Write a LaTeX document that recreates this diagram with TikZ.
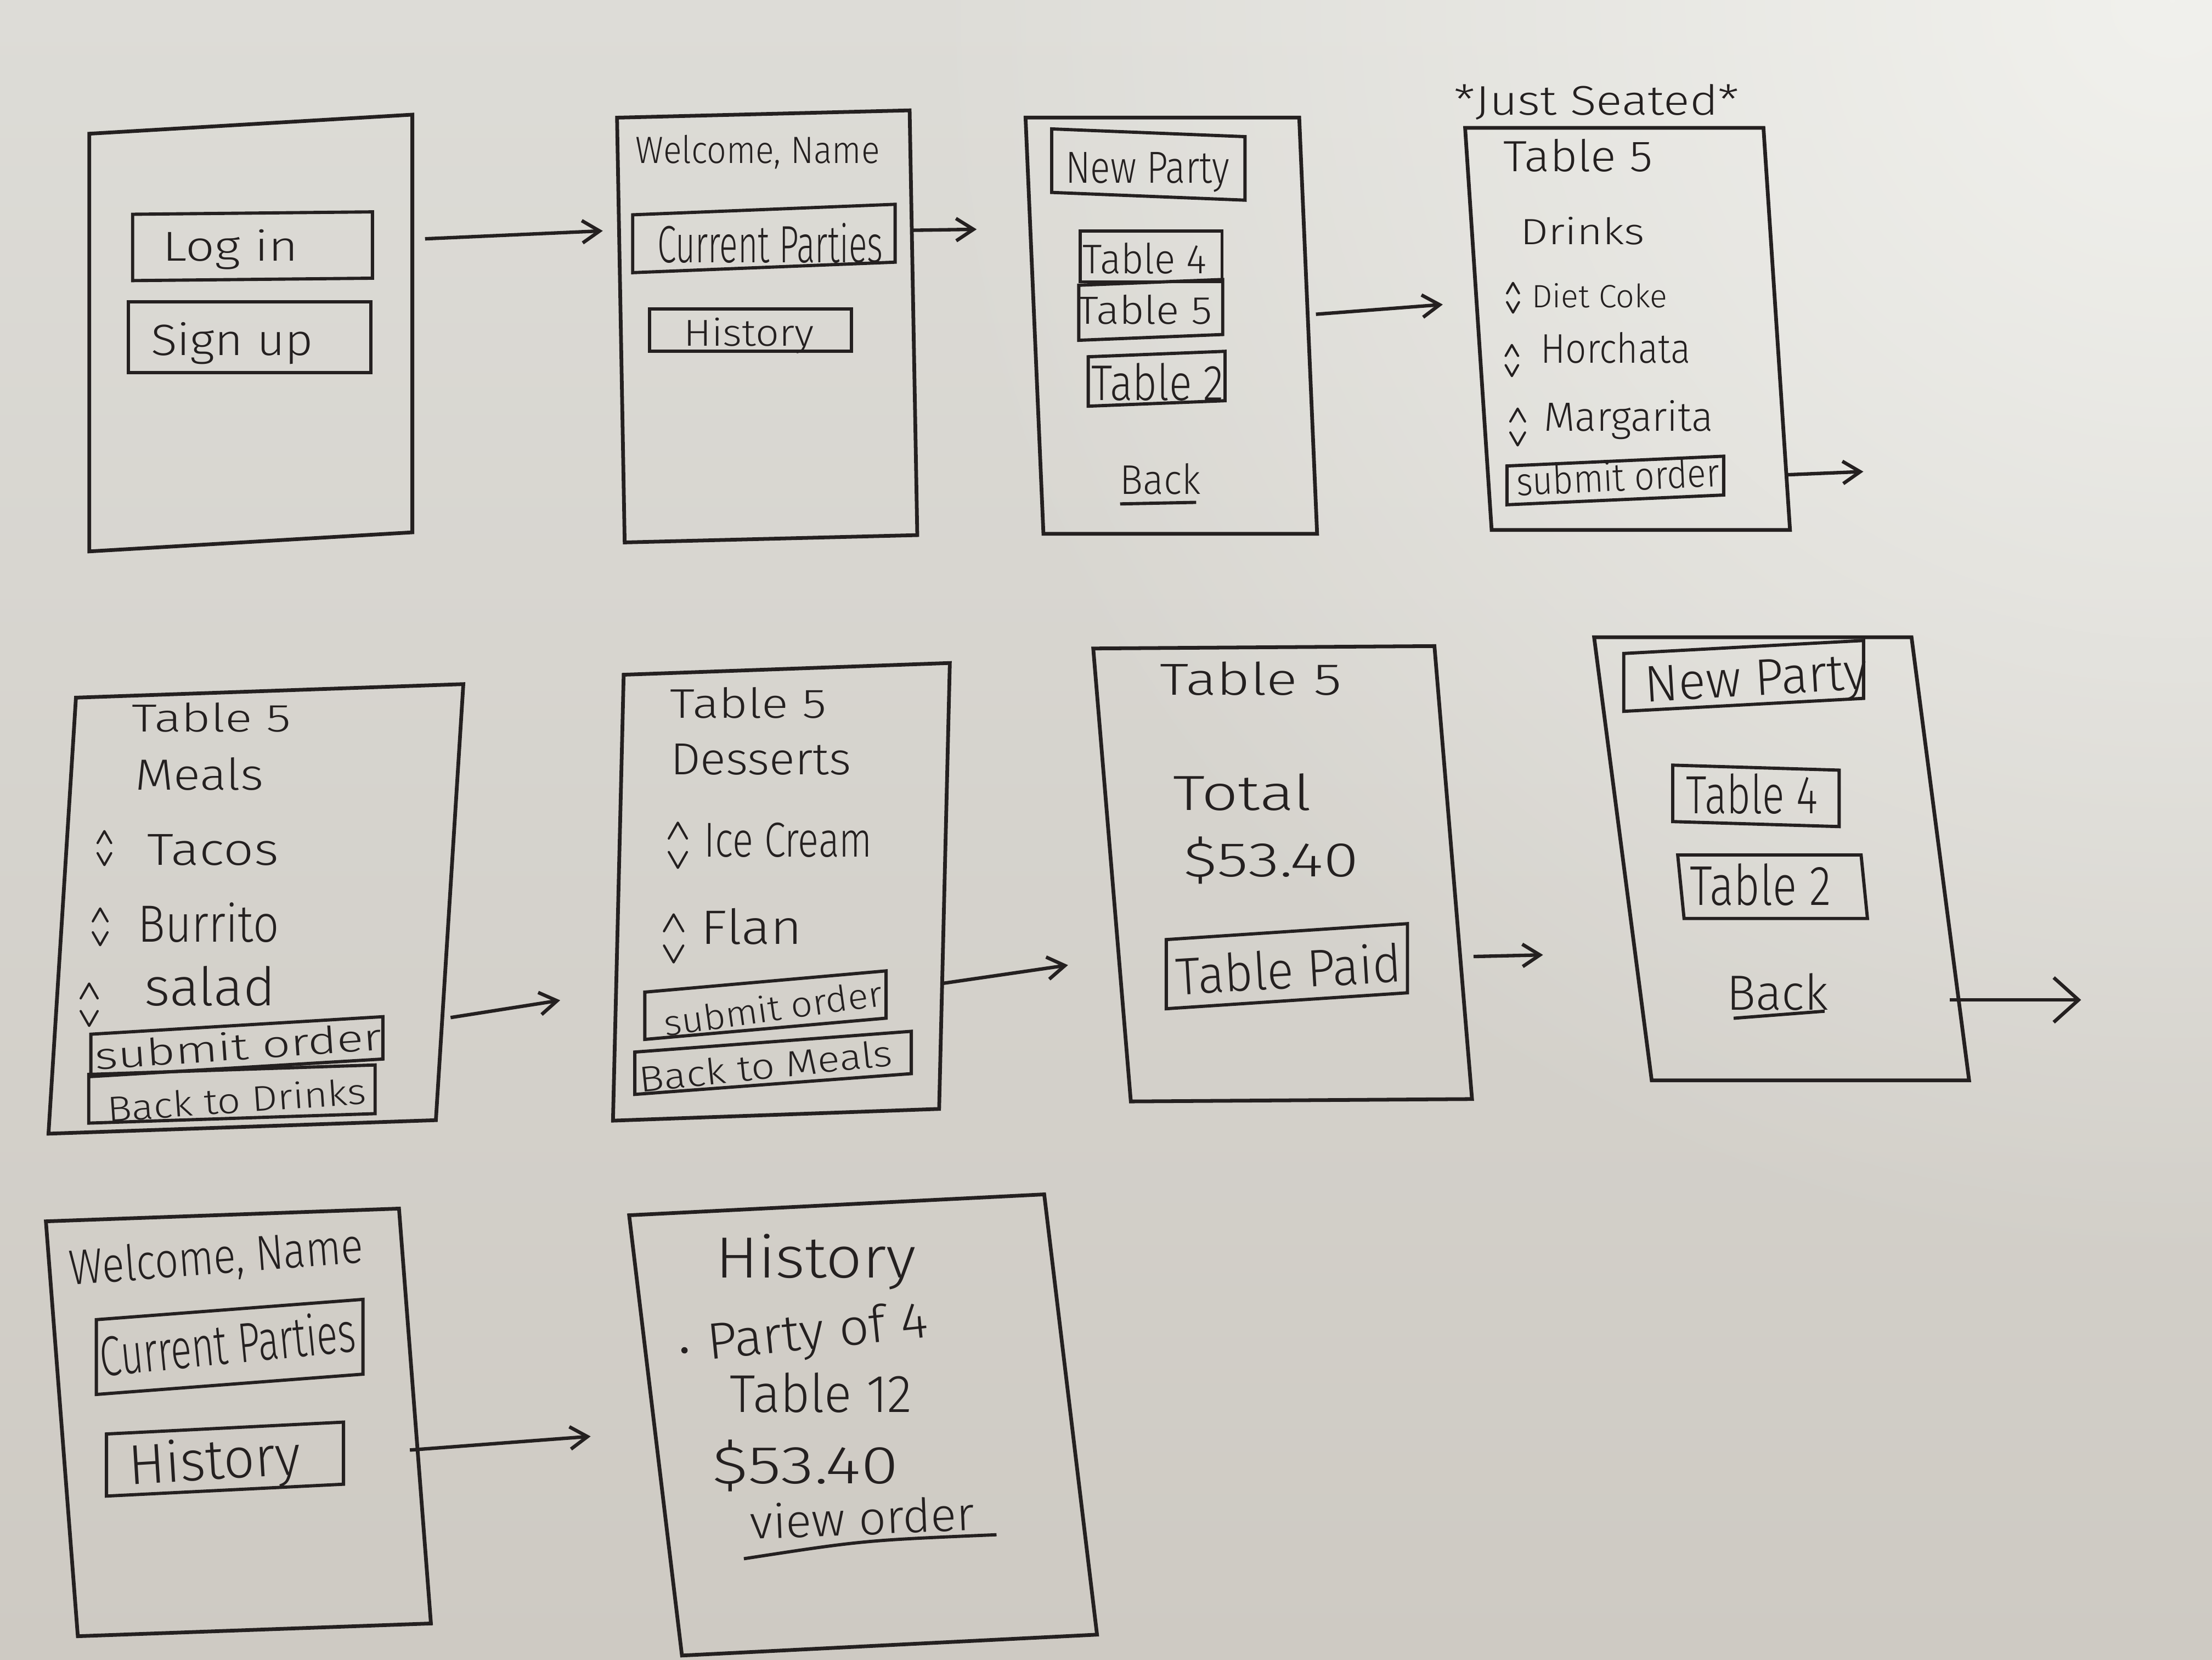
\documentclass[tikz,border=0pt]{standalone}
\usepackage{graphicx}
\usepackage{fontspec}
\setmainfont{Fira Sans Light}
\usetikzlibrary{arrows.meta,calc,fadings}

\definecolor{papertop}{RGB}{221,220,215}
\definecolor{paperbot}{RGB}{206,202,195}
\definecolor{paperhi}{RGB}{241,241,237}
\definecolor{ink}{RGB}{36,32,32}

% soft radial glow used for the lit corner of the sheet
\tikzfading[name=glow, inner color=transparent!0, outer color=transparent!100]

% one unit of the sketch grid
\newlength\pxu \setlength\pxu{0.2mm}
% hand-lettered label squeezed to a given width and letter height
\newcommand\hw[3]{\resizebox{#1\pxu}{#2\pxu}{#3}}

\begin{document}
\begin{tikzpicture}[x=0.2mm,y=-0.2mm,
  sz/.style 2 args={minimum width=#1*0.2mm, minimum height=#2*0.2mm},
  screen/.style={draw=ink, line width=1.5pt, rectangle, inner sep=0pt, outer sep=0pt},
  btn/.style={draw=ink, line width=1.3pt, rectangle, inner sep=0pt, outer sep=0pt},
  txt/.style={anchor=base, inner sep=0pt, text=ink, font=\fontsize{20}{24}\selectfont},
  flow/.style={draw=ink, line width=1.4pt, -{Straight Barb[length=7pt,width=9pt]}},
  bighead/.style={-{Straight Barb[length=10pt,width=18pt]}},
  uline/.style={draw=ink, line width=1.3pt},
  ud/.style={draw=ink, line width=0.9pt, line cap=round, line join=round},
  updown/.pic={
    \draw[ud] (-4,-3) -- (0,-10) -- (4,-3);
    \draw[ud] (-4,3) -- (0,10) -- (4,3);
  }
]

% paper
\useasboundingbox (0,0) rectangle (1568,1176);
\shade[top color=papertop, bottom color=paperbot] (0,0) rectangle (1568,1176);
\begin{scope}
  \clip (0,0) rectangle (1568,1176);
  \fill[paperhi, path fading=glow] (1540,0) circle (900);
\end{scope}

% ---------- screens ----------
\node[screen, sz={229}{296}, yslant=0.059] (sA) at (177.8,236) {};
\node[screen, sz={207.5}{301}, xslant=-0.018, yslant=0.025] (sB) at (543.8,231.3) {};
\node[screen, sz={194}{295}, xslant=-0.043] (sC) at (830.3,230.8) {};
\node[screen, sz={211.5}{285}, xslant=-0.066] (sD) at (1153.7,233.1) {};
\node[screen, sz={274}{309}, xslant=0.063, yslant=0.035] (sE) at (181.4,644.1) {};
\node[screen, sz={231}{316}, xslant=0.024, yslant=0.036] (sF) at (553.9,632) {};
\node[screen, sz={242}{321}, xslant=-0.083, yslant=0.007] (sG) at (909.2,619.2) {};
\node[screen, sz={225}{314}, xslant=-0.13] (sH) at (1262.9,608.6) {};
\node[screen, sz={251}{294}, xslant=-0.077, yslant=0.036] (sI) at (169,1008) {};
\node[screen, sz={296}{312}, xslant=-0.12, yslant=0.05] (sJ) at (611.8,1009.8) {};

% ---------- buttons ----------
\node[btn, sz={170}{47}, yslant=0.01] (bLogin) at (179,174.5) {};
\node[btn, sz={172}{50}] (bSign) at (177,239) {};
\node[btn, sz={186}{41}, yslant=0.04] (bCurB) at (541.5,169) {};
\node[btn, sz={143}{30}] (bHistB) at (532,234) {};
\node[btn, sz={137}{45}, yslant=-0.04] (bNewC) at (814,116.6) {};
\node[btn, sz={100.5}{36}] (bT4C) at (816,181.7) {};
\node[btn, sz={102}{39}, yslant=0.04] (bT5C) at (815.7,219.6) {};
\node[btn, sz={97}{35}, yslant=0.04] (bT2C) at (819.9,268.4) {};
\node[btn, sz={153.6}{27.5}, yslant=0.045] (bSubD) at (1145,340.5) {};
\node[btn, sz={207}{30}, yslant=0.06] (bSubE) at (167.9,741.7) {};
\node[btn, sz={203}{34.5}, yslant=0.033] (bBackE) at (164.4,775.3) {};
\node[btn, sz={171}{33.5}, yslant=0.088] (bSubF) at (542.6,712.3) {};
\node[btn, sz={196}{30}, yslant=0.075] (bBackF) at (548,753.2) {};
\node[btn, sz={171}{49}, yslant=0.066] (bPaid) at (912.2,684.7) {};
\node[btn, sz={170}{41}, yslant=0.054] (bNewH) at (1236,479) {};
\node[btn, sz={118}{40}, yslant=-0.03] (bT4H) at (1244.7,564) {};
\node[btn, sz={130}{45}, xslant=-0.1] (bT2H) at (1256.5,628.4) {};
\node[btn, sz={189}{53}, yslant=0.076] (bCurI) at (162.8,954.5) {};
\node[btn, sz={168}{44}, yslant=0.05] (bHistI) at (159.5,1034) {};

% ---------- labels ----------
% login
\node[txt] (tLogin) at (163.3,184.8) {\hw{96}{22.3}{Log in}};
\node[txt] (tSign)  at (164.5,251.8) {\hw{115}{23.4}{Sign up}};
% welcome
\node[txt] (tWelB)  at (537.2,115.6) {\hw{173}{20}{Welcome, Name}};
\node[txt] (tCurB)  at (545.9,186)   {\hw{160}{28}{Current Parties}};
\node[txt] (tHistB) at (530.8,245.1) {\hw{92}{20}{History}};
% current parties
\node[txt] (tNewC)  at (813.4,129.7) {\hw{116}{21.8}{New Party}};
\node[txt] (tT4C)   at (811.4,194)   {\hw{88}{21.8}{Table 4}};
\node[txt] (tT5C)   at (811.4,229.6) {\hw{96}{20.7}{Table 5}};
\node[txt] (tT2C)   at (820.5,283.6) {\hw{94}{26.4}{Table 2}};
\node[txt] (tBackC) at (822.6,350.2) {\hw{57}{21.8}{Back}};
% drinks
\node[txt] (tJust)  at (1131.9,81.5) {\hw{202}{21.8}{*Just Seated*}};
\node[txt] (tT5D)   at (1118.6,121.7) {\hw{106}{23}{Table 5}};
\node[txt] (tDrinks) at (1121.7,173.3) {\hw{88}{19.5}{Drinks}};
\node[txt] (tDiet)  at (1133.9,218.1) {\hw{96}{17.2}{Diet Coke}};
\node[txt] (tHorch) at (1145.2,257.2) {\hw{106}{21.8}{Horchata}};
\node[txt] (tMarg)  at (1154.4,305.4) {\hw{120}{21.8}{Margarita}};
\node[txt, rotate=2.7] (tSubD) at (1147.2,347.9) {\hw{144}{21}{submit order}};
% meals
\node[txt] (tT5E)   at (149.9,518.7) {\hw{113}{20.6}{Table 5}};
\node[txt] (tMeals) at (141.3,559.9) {\hw{91}{23}{Meals}};
\node[txt] (tTacos) at (151,613.2)   {\hw{93}{21.8}{Tacos}};
\node[txt] (tBurr)  at (147.8,667.7) {\hw{100}{27.9}{Burrito}};
\node[txt] (tSalad) at (148.9,712.5) {\hw{93}{28}{salad}};
\node[txt, rotate=4] (tSubE)  at (169.5,751)   {\hw{204}{20}{submit order}};
\node[txt, rotate=4] (tBackE) at (168.4,788.5) {\hw{184}{19}{Back to Drinks}};
% desserts
\node[txt] (tT5F)   at (530.6,509)   {\hw{111}{21.8}{Table 5}};
\node[txt] (tDess)  at (539.3,549)   {\hw{128}{21.8}{Desserts}};
\node[txt] (tIce)   at (558.8,607.1) {\hw{119}{24.2}{Ice Cream}};
\node[txt] (tFlan)  at (532.8,668.9) {\hw{72}{25.4}{Flan}};
\node[txt, rotate=8] (tSubF)  at (549.1,723.5) {\hw{156}{19}{submit order}};
\node[txt, rotate=6] (tBackF) at (543.7,764.5) {\hw{180}{19}{Back to Meals}};
% total
\node[txt] (tT5G)   at (886.7,492.7) {\hw{129}{23.6}{Table 5}};
\node[txt] (tTotal) at (880.7,574.1) {\hw{98}{26}{Total}};
\node[txt] (tAmtG)  at (901,621.3)   {\hw{124}{28.3}{\$53.40}};
\node[txt, rotate=3.4] (tPaid) at (914.2,700.3) {\hw{160}{28}{Table Paid}};
% parties after payment
\node[txt, rotate=3.4] (tNewH) at (1245.5,492.7) {\hw{158}{25}{New Party}};
\node[txt] (tT4H)   at (1241.9,576.5) {\hw{93}{28.3}{Table 4}};
\node[txt] (tT2H)   at (1247.9,641.3) {\hw{100}{29.5}{Table 2}};
\node[txt] (tBackH) at (1259.9,715.6) {\hw{72}{26}{Back}};
% welcome again
\node[txt, rotate=4.4] (tWelI) at (154.1,902.7)  {\hw{209}{26}{Welcome, Name}};
\node[txt, rotate=5.7] (tCurI) at (162.8,966.5)  {\hw{182}{30}{Current Parties}};
\node[txt, rotate=3.5] (tHistI) at (152.9,1048.4) {\hw{122}{30}{History}};
% history
\node[txt] (tHistJ) at (578.3,905.5) {\hw{142}{31}{History}};
\node[circle, fill=ink, inner sep=0pt, minimum size=0.9mm] (dot) at (485.2,956.9) {};
\node[txt, rotate=5.8] (tParty) at (580.7,955.5) {\hw{157}{27}{Party of 4}};
\node[txt] (tT12)   at (582,1000.7)  {\hw{129}{28}{Table 12}};
\node[txt] (tAmtJ)  at (570.8,1051.2) {\hw{132}{31}{\$53.40}};
\node[txt, rotate=2.3] (tView) at (611.8,1087.6) {\hw{159}{25}{view order}};

% underlined links
\draw[uline] ($(tBackC.base)+(-28.6,6.9)$) -- ($(tBackC.base)+(25.3,5.8)$);
\draw[uline] ($(tBackH.base)+(-31,6)$) -- ($(tBackH.base)+(33.5,1)$);
\draw[uline] ($(tView.base)+(-84.5,17)$) .. controls ($(tView.base)+(0,4)$) .. ($(tView.base)+(94.6,0)$);

% quantity steppers
\pic[scale=1.05] at (1072.5,211)   {updown};
\pic[scale=1.1]  at (1071.7,255.5) {updown};
\pic[scale=1.3]  at (1075.8,302.6) {updown};
\pic[scale=1.2]  at (74,601)       {updown};
\pic[scale=1.3]  at (71,656.8)     {updown};
\pic[scale=1.5]  at (63.2,712)     {updown};
\pic[scale=1.6]  at (480.5,599)    {updown};
\pic[scale=1.7]  at (477.5,665)    {updown};

% ---------- flow ----------
\draw[flow] ($(sA.east)+(9,-60)$) -- ($(sB.west)+(-12.8,-70.3)$);
\draw[flow] ($(sB.east)+(-2.2,-65.5)$) -- ($(sC.west)+(-41,-68.3)$);
\draw[flow] ($(sC.east)+(5.5,-8.1)$) -- ($(sD.west)+(-25.2,-17.3)$);
\draw[flow] ($(sD.east)+(6.2,103.4)$) -- ++(55.2,-2.3);
\draw[flow] ($(sE.east)+(0.7,81.8)$) -- ($(sF.west)+(-41.2,72.7)$);
\draw[flow] ($(sF.east)+(-1,69)$) -- ($(sG.west)+(-31.2,63.9)$);
\draw[flow] ($(sG.east)+(14.4,59.5)$) -- ($(sH.west)+(-56.6,68.1)$);
\draw[flow, bighead] ($(sH.east)+(6.5,100)$) -- ++(93.3,0);
\draw[flow] ($(sI.east)+(-3.6,24.1)$) -- ($(sJ.west)+(-46,0.7)$);

\end{tikzpicture}
\end{document}
